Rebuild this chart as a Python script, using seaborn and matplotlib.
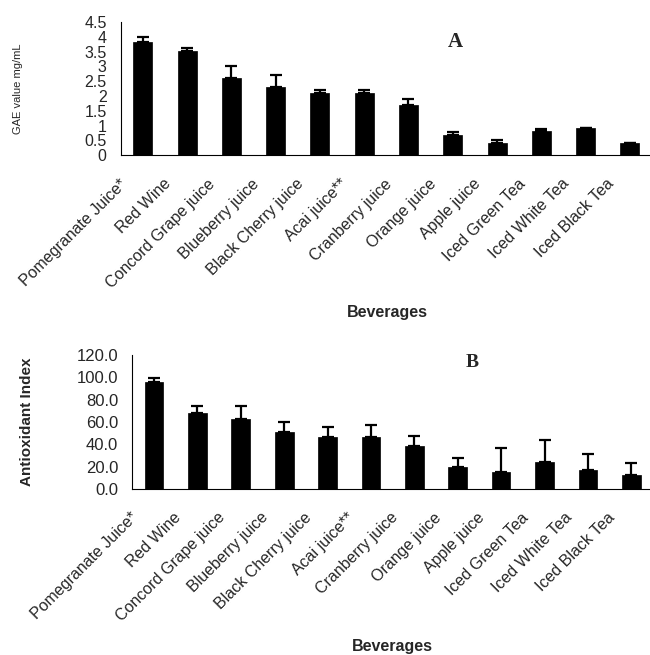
import numpy as np
import pandas as pd
import matplotlib
matplotlib.use("Agg")
import matplotlib.pyplot as plt
from matplotlib.transforms import ScaledTranslation
import seaborn as sns

beverages = ["Pomegranate Juice*", "Red Wine", "Concord Grape juice", "Blueberry juice",
             "Black Cherry juice", "Acai juice**", "Cranberry juice", "Orange juice",
             "Apple juice", "Iced Green Tea", "Iced White Tea", "Iced Black Tea"]
gae_values = [3.82, 3.51, 2.60, 2.32, 2.11, 2.12, 1.71, 0.70, 0.42, 0.81, 0.92, 0.42]
gae_errors = [0.18, 0.10, 0.40, 0.38, 0.10, 0.08, 0.18, 0.09, 0.08, 0.09, 0.0, 0.0]
aox_values = [96.1, 68.3, 62.4, 51.0, 46.8, 46.8, 38.8, 20.0, 15.0, 24.4, 17.3, 12.8]
aox_errors = [3.3, 6.0, 11.9, 9.0, 9.0, 10.5, 8.9, 8.0, 21.7, 19.2, 14.0, 10.5]
gae_ticks = [0, 0.5, 1, 1.5, 2, 2.5, 3, 3.5, 4, 4.5]
aox_ticks = [0, 20, 40, 60, 80, 100, 120]

sns.set_style("white")
plt.rcParams['font.family'] = ['Liberation Sans', 'DejaVu Sans']

W, H = 650, 655
fig = plt.figure(figsize=(W / 100, H / 100), dpi=100)

def px_axes(left, right, top, bottom):
    return fig.add_axes([left / W, 1 - bottom / H, (right - left) / W, (bottom - top) / H])

axA = px_axes(120.7, 652, 22, 155.3)
axB = px_axes(132.3, 653, 355, 489)

def draw(ax, values, errors, ticks, ylabel, ylabel_kw, fmt, letter, letter_xy, letter_size, ytick_size):
    df = pd.DataFrame({"Beverage": beverages, "Value": values})
    sns.barplot(data=df, x="Beverage", y="Value", color="black", width=0.43,
                errorbar=None, ax=ax, saturation=1)
    for p in ax.patches:
        p.set_edgecolor("black")
        p.set_linewidth(0.5)
    x = np.arange(len(beverages))
    ax.errorbar(x, values, yerr=[np.zeros(len(values)), errors], fmt="none",
                ecolor="black", elinewidth=1.6, capsize=4.3, capthick=1.6, zorder=3)
    ax.set_xlim(-0.5, len(beverages) - 0.5)
    ax.set_ylim(0, ticks[-1])
    ax.set_yticks(ticks)
    ax.set_yticklabels([fmt(t) for t in ticks], fontsize=ytick_size)
    ax.set_xticks(x)
    ax.set_xticklabels(beverages, rotation=45, ha="right", va="top",
                       rotation_mode="anchor", fontsize=11.5)
    ax.set_xticks(np.arange(-0.5, len(beverages) + 0.5, 1), minor=True)
    ax.tick_params(axis="x", which="major", length=0, pad=15)
    ax.tick_params(axis="x", which="minor", length=4.5, width=0.8, color="black", direction="out")
    ax.tick_params(axis="y", length=3.6, width=0.8, color="black", direction="out", pad=6.5)
    offset = ScaledTranslation(-0.24, 0, fig.dpi_scale_trans)
    for lab in ax.get_xticklabels():
        lab.set_transform(lab.get_transform() + offset)
    for s in ["top", "right"]:
        ax.spines[s].set_visible(False)
    for s in ["left", "bottom"]:
        ax.spines[s].set_color("black")
        ax.spines[s].set_linewidth(0.8)
    ax.set_xlabel("")
    ax.set_ylabel(ylabel, **ylabel_kw)
    fig.text(letter_xy[0] / W, 1 - letter_xy[1] / H, letter, family="Liberation Serif",
             fontweight="bold", fontsize=letter_size, ha="center", va="center")

draw(axA, gae_values, gae_errors, gae_ticks, "GAE value mg/mL",
     dict(fontsize=8), lambda t: f"{t:g}", "A", (455, 42), 15, 11.5)
draw(axB, aox_values, aox_errors, aox_ticks, "Antioxidant Index",
     dict(fontsize=11, fontweight="bold"), lambda t: f"{t:.1f}", "B", (472, 362), 14, 12)

axA.yaxis.set_label_coords((23.5 - 120.7) / (652 - 120.7), 0.5)
axB.yaxis.set_label_coords((34 - 132.3) / (653 - 132.3), 0.5)
fig.text(387 / W, 1 - 313 / H, "Beverages", fontsize=11.5, fontweight="bold", ha="center", va="center")
fig.text(392 / W, 1 - 647 / H, "Beverages", fontsize=11.5, fontweight="bold", ha="center", va="center")

fig.savefig("out.png", dpi=100)
